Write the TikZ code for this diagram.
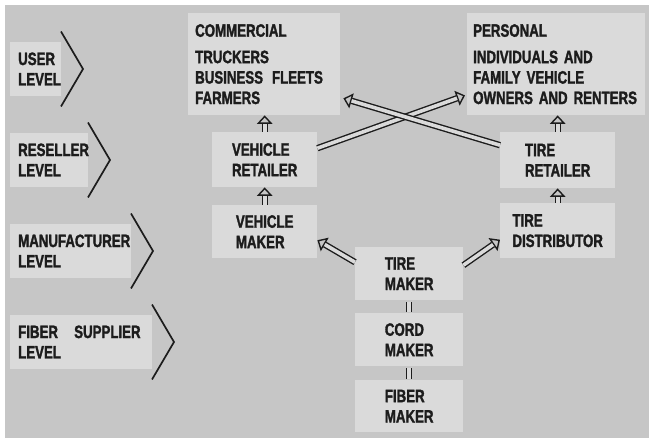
\documentclass[tikz,border=0pt]{standalone}
\usepackage{fontspec}
\setmainfont[FakeStretch=0.74,WordSpace=2.2,BoldFeatures={FakeBold=1.6}]{Liberation Sans}
\usetikzlibrary{calc}
\usetikzlibrary{arrows.meta}

\definecolor{paper}{HTML}{C6C6C6}
\definecolor{panel}{HTML}{DADADA}
\definecolor{ink}{HTML}{1C1C1C}

\newcommand\chartfont{\bfseries\fontsize{18}{20.5}\selectfont}

% hollow double-line arrow: tip first, shaft on top of its stub
\newcommand\dblarrow[2]{%
  \draw[hollow tip] ($(#2)!11bp!(#1)$) -- (#2);
  \draw[dbl line, shorten >=8.5bp] (#1) -- (#2);}

\tikzset{
  box/.style={fill=panel, inner sep=0pt, anchor=north west, align=left, font=\chartfont, text=ink},
  lvltext/.style={inner sep=0pt, anchor=west, align=left, font=\chartfont, text=ink},
  chev/.style={draw=ink, line width=1.7bp},
  dbl line/.style={draw=ink, line width=1.4bp, double=panel, double distance=3.6bp},
  hollow tip/.style={draw=ink, line width=1.4bp, -{Triangle[open, length=8.5bp, width=15.5bp]}},
}

\begin{document}
\begin{tikzpicture}[x=1bp, y=-1bp]
\useasboundingbox (0,0) rectangle (649,438);
\fill[white] (0,0) rectangle (649,438);
\fill[paper] (5,5) rectangle (649,438);

% levels down the left side
\foreach \nm/\cx/\cy/\txt in {user/61/69/{USER\\LEVEL}, resel/88/160/{RESELLER\\LEVEL},
    manuf/131/251/{MANUFACTURER\\LEVEL}, fiber/152/342/{FIBER\ \ SUPPLIER\\LEVEL}}{
  \fill[panel] (10,\cy-27) rectangle (\cx,\cy+27);
  \node[lvltext] (\nm) at (18,\cy) {\txt};
  \draw[chev] (\cx,\cy-37.5) -- (\cx+22,\cy) -- (\cx,\cy+37.5);
}

% users
\node[box, text width=138bp, inner xsep=7bp, minimum height=102bp] (comm) at (188,13)
  {COMMERCIAL\\[6bp]TRUCKERS\\BUSINESS\hspace{3bp} FLEETS\\FARMERS};
\node[box, text width=166bp, inner xsep=6bp, minimum height=102bp] (pers) at (467,13)
  {PERSONAL\\[6bp]INDIVIDUALS AND\\FAMILY VEHICLE\\OWNERS AND RENTERS};

% vehicle side
\node[box, minimum width=105bp, minimum height=55bp] (vret) at (212,132) {VEHICLE\\RETAILER};
\node[box, minimum width=105bp, minimum height=53bp] (vmak) at (212,205) {VEHICLE\\MAKER};

% tire side
\node[box, minimum width=115bp, minimum height=56bp] (tret) at (500,132) {TIRE\\RETAILER};
\node[box, minimum width=115bp, minimum height=55bp] (tdis) at (500,203) {TIRE\\DISTRIBUTOR};

% maker column
\node[box, minimum width=108bp, minimum height=53bp] (tmak) at (355,247) {TIRE\\MAKER};
\node[box, minimum width=108bp, minimum height=53bp] (cmak) at (355,313) {CORD\\MAKER};
\node[box, minimum width=108bp, minimum height=52bp] (fmak) at (355,380) {FIBER\\MAKER};

% arrow ends
\coordinate (comm-up) at (vret.north |- comm.south);
\coordinate (vret-up) at (vmak.north |- vret.south);
\coordinate (pers-up) at (tret.north |- pers.south);
\coordinate (tret-up) at (tdis.north |- tret.south);
\coordinate (vret-out) at ([yshift=11.5bp]vret.east);
\coordinate (pers-in) at ([xshift=-2bp,yshift=20bp]pers.south west);
\coordinate (tret-out) at ([yshift=15bp]tret.west);
\coordinate (comm-in) at ([xshift=3bp,yshift=17bp]comm.south east);
\coordinate (tmak-left) at ([yshift=11.5bp]tmak.west);
\coordinate (vmak-in) at ([yshift=-8.5bp]vmak.east);
\coordinate (tmak-right) at ([yshift=8.5bp]tmak.east);
\coordinate (tdis-in) at ([yshift=-9bp]tdis.west);

\dblarrow{vret.north}{comm-up}
\dblarrow{vmak.north}{vret-up}
\dblarrow{tret.north}{pers-up}
\dblarrow{tdis.north}{tret-up}

\dblarrow{vret-out}{pers-in}
\dblarrow{tret-out}{comm-in}
\dblarrow{tmak-left}{vmak-in}
\dblarrow{tmak-right}{tdis-in}

\draw[dbl line, shorten <=2bp, shorten >=1bp] (tmak.south) -- (cmak.north);
\draw[dbl line, shorten <=2bp, shorten >=1bp] (cmak.south) -- (fmak.north);
\end{tikzpicture}
\end{document}
